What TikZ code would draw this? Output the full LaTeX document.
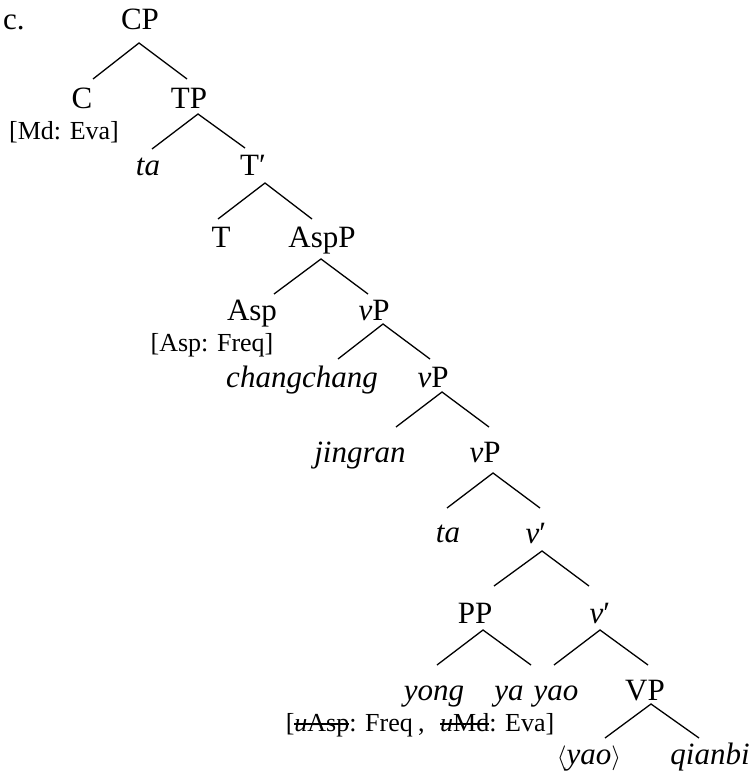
\documentclass[tikz,border=0pt]{standalone}
\usepackage{fontspec}
\setmainfont{Liberation Serif}
\usetikzlibrary{calc}
\newcommand\strk[1]{\setbox0\hbox{#1}\rlap{\rule[0.24em]{\wd0}{0.06em}}\box0}
\begin{document}
\begin{tikzpicture}[x=1pt,y=-1pt,
  lbl/.style={anchor=base,inner sep=0pt,font=\fontsize{31}{37}\selectfont},
  feat/.style={anchor=base,inner sep=0pt,font=\fontsize{26}{31}\selectfont},
  br/.style={line width=1.3pt}]
\useasboundingbox (0,0) rectangle (754,776);
% labels
\node[lbl,anchor=base west] (ex) at (3,30) {c.};
\node[lbl] (CP) at (140,30) {CP};
\node[lbl] (C) at (82,108) {C};
\node[lbl] (TP) at (189,108) {TP};
\node[feat] (Cf) at (64,139) {[Md: Eva]};
\node[lbl] (ta1) at (148,175) {\itshape ta};
\node[lbl] (Tb) at (253,175) {T′};
\node[lbl] (T) at (221,247) {T};
\node[lbl] (AspP) at (322,247) {AspP};
\node[lbl] (Asp) at (252,320) {Asp};
\node[lbl] (vP1) at (374,320) {\textit{v}P};
\node[feat] (Aspf) at (212,351) {[Asp: Freq]};
\node[lbl] (cc) at (302,387) {\itshape changchang};
\node[lbl] (vP2) at (433,387) {\textit{v}P};
\node[lbl] (jr) at (360,462) {\itshape jingran};
\node[lbl] (vP3) at (485,462) {\textit{v}P};
\node[lbl] (ta2) at (448,542) {\itshape ta};
\node[lbl] (vb1) at (536,543) {\textit{v}′};
\node[lbl] (PP) at (475,623) {PP};
\node[lbl] (vb2) at (600,623) {\textit{v}′};
\node[lbl] (yong) at (434,700) {\itshape yong};
\node[lbl] (ya) at (509,700) {\itshape ya};
\node[lbl] (yao) at (556,700) {\itshape yao};
\node[lbl] (VP) at (645,700) {VP};
\node[feat] (Pf) at (420,731) {[\strk{\textit{u}Asp}: Freq\hspace{0.2em},\hspace{0.6em}\strk{\textit{u}Md}: Eva]};
\node[lbl] (yaoc) at (589,764) {$\langle$\textit{yao}$\rangle$};
\node[lbl] (qb) at (710,764) {\itshape qianbi};
% branches
\draw[br] ($(C.base)+(11,-29)$) -- ($(CP.base)+(-1,13)$) -- ($(TP.base)+(-2,-29)$);
\draw[br] ($(ta1.base)+(4,-26)$) -- ($(TP.base)+(9,6)$) -- ($(Tb.base)+(-8,-27)$);
\draw[br] ($(T.base)+(-3,-28)$) -- ($(Tb.base)+(12,8)$) -- ($(AspP.base)+(-10,-28)$);
\draw[br] ($(Asp.base)+(22,-26)$) -- ($(AspP.base)+(-1,12)$) -- ($(vP1.base)+(-6,-26)$);
\draw[br] ($(cc.base)+(36,-28)$) -- ($(vP1.base)+(9,4)$) -- ($(vP2.base)+(-3,-28)$);
\draw[br] ($(jr.base)+(36,-35)$) -- ($(vP2.base)+(9,5)$) -- ($(vP3.base)+(4,-35)$);
\draw[br] ($(ta2.base)+(-1,-34)$) -- ($(vP3.base)+(8,11)$) -- ($(vb1.base)+(4,-35)$);
\draw[br] ($(PP.base)+(19,-37)$) -- ($(vb1.base)+(6,8)$) -- ($(vb2.base)+(-11,-37)$);
\draw[br] ($(yong.base)+(3,-35)$) -- ($(PP.base)+(8,7)$) -- ($(ya.base)+(22,-35)$);
\draw[br] ($(yao.base)+(-2,-35)$) -- ($(vb2.base)+(0,7)$) -- ($(VP.base)+(3,-35)$);
\draw[br] ($(yaoc.base)+(16,-26)$) -- ($(VP.base)+(6,4)$) -- ($(qb.base)+(-11,-26)$);
\end{tikzpicture}
\end{document}
